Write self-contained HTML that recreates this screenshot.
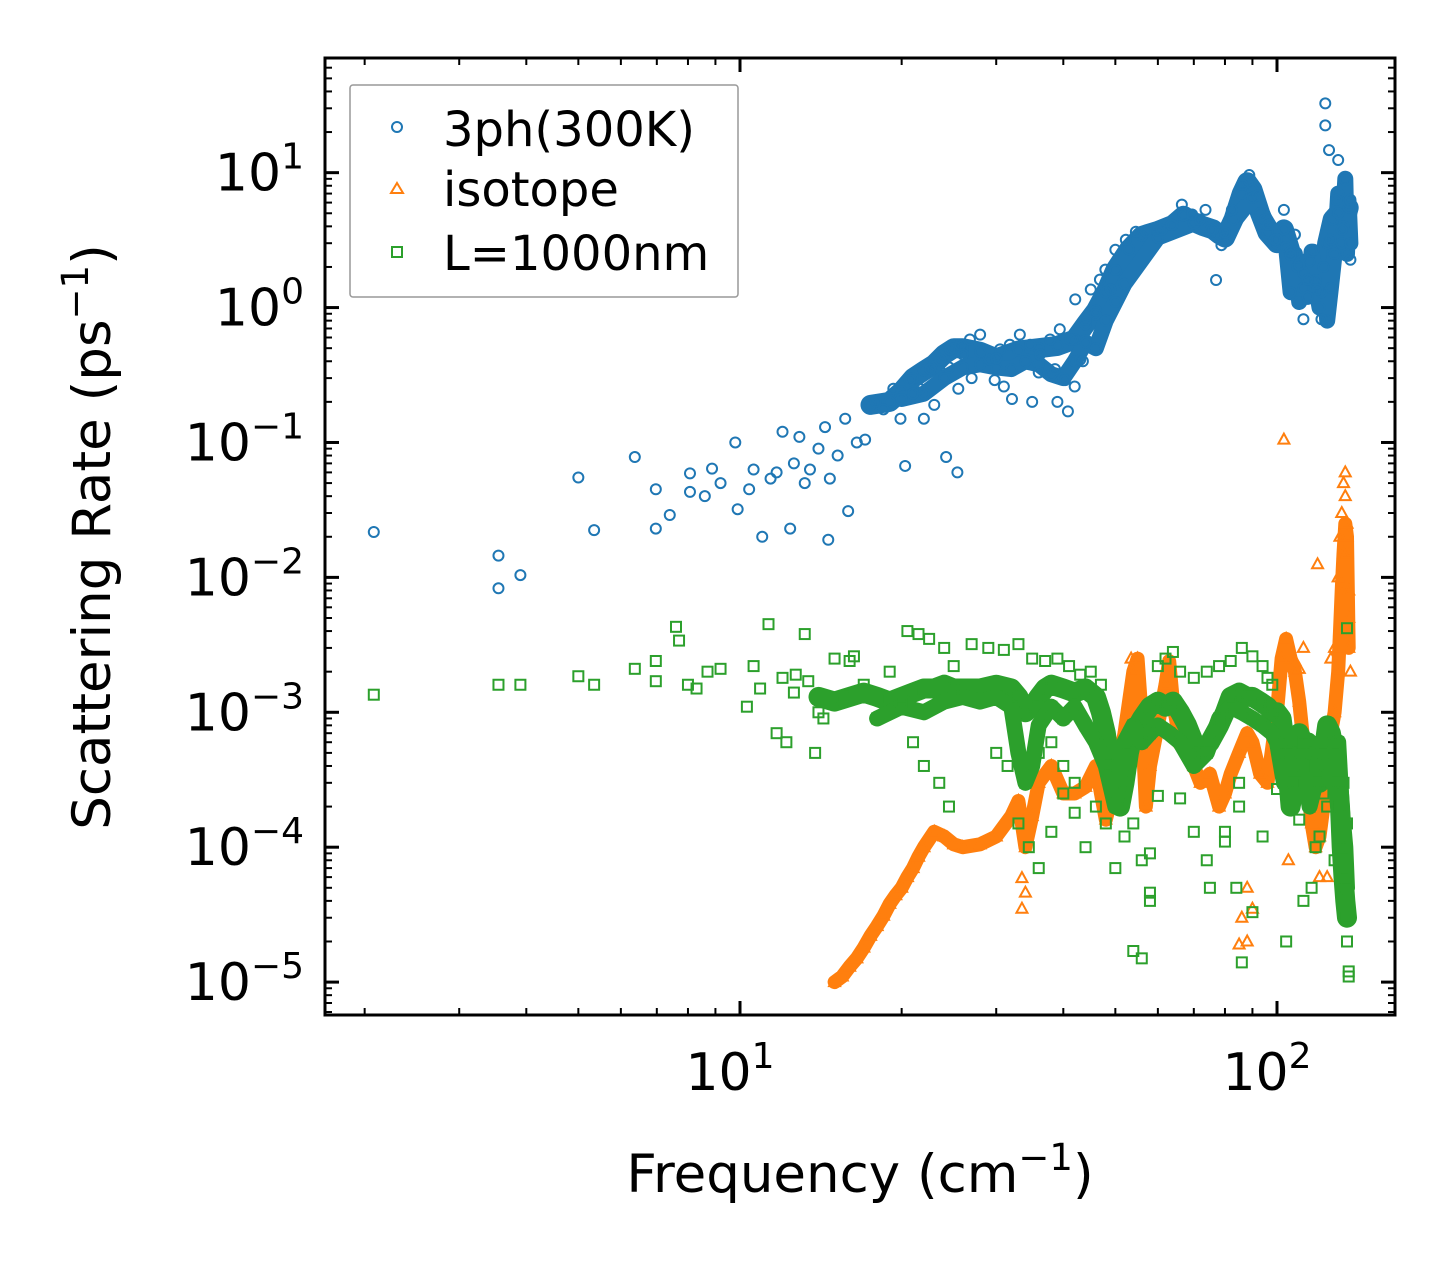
<!DOCTYPE html>
<html><head><meta charset="utf-8"><style>
html,body{margin:0;padding:0;background:#fff}
svg{display:block;font-family:"DejaVu Sans","Liberation Sans",sans-serif}
</style></head><body>
<svg id="chart" width="1455" height="1265" viewBox="0 0 1455 1265" xmlns="http://www.w3.org/2000/svg">
<rect width="1455" height="1265" fill="#fff"/>
<g id="marks"></g>
<rect x="325" y="58" width="1070" height="957" fill="none" stroke="#000" stroke-width="3"/>
<g id="ticks"></g>
<text x="860" y="1192" font-size="53" text-anchor="middle">Frequency (cm<tspan dy="-22" font-size="37">−1</tspan><tspan dy="22">)</tspan></text>
<text transform="translate(110,537) rotate(-90)" font-size="53" text-anchor="middle">Scattering Rate (ps<tspan dy="-22" font-size="37">−1</tspan><tspan dy="22">)</tspan></text>
<g>
<rect x="350" y="85" width="388" height="212" fill="#fff" stroke="#999" stroke-width="1.5" rx="3"/>
<circle cx="397" cy="127" r="5" fill="none" stroke="#1f77b4" stroke-width="2"/>
<text x="443" y="146" font-size="48">3ph(300K)</text>
<polygon points="397,183 403,193 391,193" fill="none" stroke="#ff7f0e" stroke-width="2"/>
<text x="443" y="206" font-size="48">isotope</text>
<rect x="392" y="247" width="10" height="10" fill="none" stroke="#2ca02c" stroke-width="2"/>
<text x="443" y="270" font-size="48">L=1000nm</text>
</g>
</svg>
<script>
// ---- data (frequency cm^-1, rate ps^-1) ----
const blueFreq = [2.08,3.55,3.55,3.9,5.0,5.35,6.37,6.97,6.97,7.4,8.07,8.07,8.87,8.6,9.8,9.9,10.6,11,11.4,12.0,12.4,12.9,13.5,14.4,14.7,15.7,15.9,14.6,17.1,17.9,18.5,19.3,19.9,20.3,20.7,21.6,22.6,23.6,24.6,24.2,25.4,25.7,26.8,28,29.2,29.8,30.5,31.8,32.1,33.2,34.7,36.2,37.8,38.6,39.4,40.3,41.2,42.1,43.0,44.0,45,45.9,46.8,47.9,49,50,52.3,54.6,57,61,63.6,66.5,69.5,71.9,73.6,75.3,77,78.8,82.4,86.2,88.8,92.1,96.3,99.1,103,106,108,110,112,114,117,119,121,123,123,125,126,129,130,132,134,137,137,12.6,13.2,14.0,15.2,16.5,11.7,10.4,9.2,21,22,23,27,31,35,39,40.8,42,43.5,36,30,25.5,24.5,26];
const blueRate = [0.0217,0.0145,0.0083,0.0104,0.055,0.0224,0.078,0.045,0.023,0.029,0.059,0.043,0.064,0.04,0.1,0.032,0.063,0.02,0.054,0.12,0.023,0.11,0.063,0.13,0.054,0.15,0.031,0.019,0.105,0.2,0.176,0.25,0.15,0.067,0.29,0.25,0.35,0.41,0.49,0.078,0.06,0.53,0.58,0.63,0.41,0.29,0.49,0.53,0.21,0.63,0.53,0.45,0.58,0.35,0.69,0.29,0.58,1.15,0.41,0.81,1.36,0.89,1.61,1.91,1.36,2.68,3.18,3.65,3.65,3.77,4.1,5.8,4.9,4.5,5.3,3.77,1.6,2.9,5.3,8.1,9.6,6.8,4.1,3.18,5.3,2.46,3.47,2.08,0.82,1.61,2.68,1.36,0.82,32.6,22.4,14.7,3.18,6.3,12.4,3.77,8.8,2.26,6.3,0.07,0.05,0.09,0.08,0.1,0.06,0.045,0.05,0.23,0.15,0.19,0.3,0.26,0.2,0.2,0.17,0.26,0.4,0.33,0.42,0.25,0.36,0.45];
const blueBandFreq = [17.5,19,20,21,22,23,24,25,26,28,30,33,36,39,42,44,46,48,50,53,56,60,64,67,70,73,76,78,80,83,86,88,90,93,96,100,103,106,109,112,115,118,121,124,127,130,133,136];
const blueBandRate = [0.19,0.2,0.24,0.3,0.34,0.38,0.45,0.5,0.5,0.47,0.42,0.48,0.5,0.52,0.58,0.75,0.95,1.3,1.9,2.7,3.4,3.7,4.1,4.8,4.3,4.0,3.8,3.5,3.3,4.5,7.0,8.5,7.5,5.0,3.6,3.0,3.8,2.6,2.0,1.4,2.2,1.6,1.3,3.0,4.5,5.0,4.0,5.5];
const blueBand2Freq = [20,22,24,26,28,30,32,34,36,38,40,42,44,46,48,50,52,60,70,80,90,95,100,104,106,108,110,112,114,116,118,120,122,124,126,128,130,132,134,135,136,137];
const blueBand2Rate = [0.21,0.23,0.3,0.36,0.38,0.36,0.35,0.4,0.38,0.32,0.3,0.4,0.55,0.5,0.8,1.1,1.5,3.3,4.2,3.6,6.5,4.5,3.2,2.8,1.3,2.5,1.1,1.8,1.2,2.6,1.5,1.0,2.0,0.8,1.4,2.5,7,3,9,2.5,6,3];
const orangeFreq = [33.5,33.5,34,53.5,103,110,119,126,128,130,131,132,133,134,134,135,135,136,136,137,88,88,90,105,108,112,120,124,85,86,100];
const orangeRate = [5.9e-5,3.5e-5,4.6e-5,2.5e-3,0.105,2.1e-3,0.0125,2.5e-3,3e-3,0.01,0.02,0.03,0.05,0.06,0.04,0.025,0.015,0.008,0.005,2e-3,5e-5,2e-5,3.5e-5,8e-5,2.4e-3,3e-3,6e-5,6e-5,1.9e-5,3e-5,1.3e-3];
const orangeBandFreq = [15,15.5,16,16.5,17,17.5,18,18.5,19,19.5,20,20.5,21,21.5,22,23,24,25,26,28,30,32,33,34,35,36,38,40,42,44,46,48,50,52,54,55,56,57,58,60,62,63,64,66,68,70,72,75,78,80,82,85,88,90,93,96,100,102,104,106,108,110,112,114,116,118,120,122,124,126,128,130,131,132,133,134,135,136];
const orangeBandRate = [1e-5,1.1e-5,1.3e-5,1.5e-5,1.8e-5,2.2e-5,2.6e-5,3.1e-5,3.8e-5,4.4e-5,5e-5,6e-5,7e-5,8.5e-5,1e-4,1.3e-4,1.2e-4,1.05e-4,1e-4,1.05e-4,1.2e-4,1.7e-4,2.2e-4,1e-4,1.7e-4,3e-4,4e-4,2.5e-4,2.5e-4,2.8e-4,4e-4,1.6e-4,3e-4,7e-4,2e-3,2.5e-3,9e-4,2e-4,4e-4,8e-4,1.6e-3,2.4e-3,1.2e-3,6e-4,5e-4,4e-4,3e-4,3.5e-4,2e-4,2.5e-4,3.5e-4,5e-4,7e-4,6e-4,3.5e-4,3e-4,1e-3,2.5e-3,3.5e-3,2.5e-3,2e-3,1.2e-3,6e-4,3e-4,1.5e-4,1e-4,1.2e-4,2e-4,4e-4,7e-4,1e-3,2e-3,4e-3,8e-3,0.015,0.025,0.02,0.003];
const greenFreq = [2.08,3.55,3.9,5.0,5.35,6.37,6.97,6.97,7.6,7.7,8.0,8.3,8.7,9.2,10.3,10.6,10.9,11.3,11.7,12.2,12.7,13.2,13.8,14.3,15.0,15.5,16.3,12.0,12.6,13.4,14.0,16.0,17.0,19.0,20.5,21.5,22.5,24.0,25.0,20.0,21.0,22.0,23.5,24.5,27,29,31,33,35,37,39,41,43,45,47,30,31.5,33,34.5,36,38,40,42,44,36,38,40,42,46,48,50,52,54,56,58,60,62,64,66,70,74,78,82,86,90,94,98,96,54,58,60,66,70,74,80,84,86,90,94,100,104,108,112,110,116,120,124,128,130,133,134,135,135,136,136,56,58,75,80,85,85,104,112,118,122,135,135];
const greenRate = [1.35e-3,1.6e-3,1.6e-3,1.85e-3,1.6e-3,2.1e-3,2.4e-3,1.7e-3,4.3e-3,3.4e-3,1.6e-3,1.5e-3,2e-3,2.1e-3,1.1e-3,2.2e-3,1.5e-3,4.5e-3,7e-4,6e-4,1.9e-3,3.8e-3,5e-4,9e-4,2.5e-3,1.3e-3,2.6e-3,1.8e-3,1.4e-3,1.7e-3,1e-3,2.4e-3,1.6e-3,2e-3,4e-3,3.8e-3,3.5e-3,3e-3,2.2e-3,1.2e-3,6e-4,4e-4,3e-4,2e-4,3.2e-3,3e-3,2.9e-3,3.2e-3,2.5e-3,2.4e-3,2.5e-3,2.2e-3,1.9e-3,2e-3,1.6e-3,5e-4,4e-4,1.5e-4,1e-4,7e-5,1.3e-4,2.5e-4,1.8e-4,1e-4,5e-4,6e-4,4e-4,3e-4,2e-4,1.5e-4,7e-5,1.2e-4,1.5e-4,8e-5,4e-5,2.2e-3,2.5e-3,2.8e-3,2e-3,1.8e-3,2e-3,2.2e-3,2.4e-3,3e-3,2.6e-3,2.2e-3,1.6e-3,1.8e-3,1.7e-5,4.6e-5,2.4e-4,2.3e-4,1.3e-4,8e-5,1.1e-4,5e-5,1.4e-5,3.3e-5,1.2e-4,2.7e-4,2e-5,3e-4,4e-5,1.6e-4,5e-5,1.2e-4,2e-4,8e-5,1e-4,3e-4,6e-5,3e-5,2e-5,1.2e-5,1.1e-5,1.5e-5,9e-5,5e-5,1.3e-4,2e-4,3e-4,6e-4,6e-4,1e-4,2.5e-4,1.5e-4,4.2e-3,3.2e-3];
const greenBandFreq = [14,15,16,17,18,19,20,21,22,23,24,25,26,28,30,32,33,34,35,36,37,38,40,42,44,46,47,48,49,50,51,52,53,54,56,58,60,62,64,66,68,70,72,75,78,80,82,85,88,90,93,96,98,100,102,104,106,108,110,112,114,116,118,120,122,124,126,128,130,131,132,133,134,135];
const greenBandRate = [1.3e-3,1.2e-3,1.3e-3,1.4e-3,1.3e-3,1.2e-3,1.3e-3,1.4e-3,1.5e-3,1.5e-3,1.6e-3,1.5e-3,1.5e-3,1.5e-3,1.6e-3,1.5e-3,1.3e-3,1e-3,1.1e-3,1.3e-3,1.5e-3,1.6e-3,1.5e-3,1.4e-3,1.5e-3,1.3e-3,1e-3,7e-4,4e-4,2.5e-4,2e-4,3e-4,5e-4,7e-4,9e-4,1.1e-3,1.2e-3,1.1e-3,1.2e-3,1e-3,8e-4,6e-4,5e-4,6e-4,8e-4,1e-3,1.3e-3,1.4e-3,1.3e-3,1.3e-3,1.2e-3,1.1e-3,1e-3,1e-3,9e-4,5e-4,2e-4,3e-4,7e-4,6e-4,6e-4,5e-4,4e-4,3e-4,5e-4,8e-4,7e-4,5e-4,3e-4,2e-4,1e-4,6e-5,4e-5,3e-5];
const greenBand2Freq = [18,20,22,24,26,28,30,32,33,34,35,36,38,40,42,44,46,48,50,52,54,56,58,60,63,66,70,74,78,82,86,90,94,98,100,103,106,109,112,115,118,121,124,127,130,132,134,135];
const greenBand2Rate = [9e-4,1.1e-3,1e-3,1.2e-3,1.3e-3,1.2e-3,1.3e-3,1.1e-3,5e-4,3e-4,4e-4,8e-4,1.1e-3,9e-4,1.1e-3,8e-4,6e-4,4e-4,2e-4,6e-4,8e-4,6e-4,7e-4,8e-4,7e-4,6e-4,4e-4,5e-4,9e-4,1.1e-3,1e-3,9e-4,8e-4,7e-4,6e-4,3e-4,5e-4,3e-4,4e-4,2e-4,3e-4,6e-4,4e-4,3e-4,6e-4,2e-4,1e-4,5e-5];
const xTickVals = [10,100];
const xTickLabels = ["1","2"];
const yTickVals = [1e1,1e0,1e-1,1e-2,1e-3,1e-4,1e-5];
const yTickLabels = ["1","0","−1","−2","−3","−4","−5"];

// ---- axes ----
const NS="http://www.w3.org/2000/svg";
const X0=325,X1=1395,Y0=58,Y1=1015;
const xLogMin=1+(X0-740)/537, xLogMax=1+(X1-740)/537;
const yLogTop=1+(173-Y0)/135.3, yLogBot=-5-(Y1-982)/135.3;
function xs(v){return X0+(Math.log10(v)-xLogMin)/(xLogMax-xLogMin)*(X1-X0);}
function ys(v){return Y0+(yLogTop-Math.log10(v))/(yLogTop-yLogBot)*(Y1-Y0);}
function mk(tag,attrs){const e=document.createElementNS(NS,tag);for(const k in attrs)e.setAttribute(k,attrs[k]);return e;}
const marks=document.getElementById('marks');
const ticks=document.getElementById('ticks');
const C={b:"#1f77b4",o:"#ff7f0e",g:"#2ca02c"};

function band(fr,rt,color,w,name){
  const p=mk('polyline',{points:fr.map((f,i)=>xs(f).toFixed(1)+','+ys(rt[i]).toFixed(1)).join(' '),fill:'none',stroke:color,'stroke-width':w,'stroke-linejoin':'round','stroke-linecap':'round'});
  
  
  marks.appendChild(p);
}
function circles(fr,rt,name){
  fr.forEach((f,i)=>{const e=mk('circle',{cx:xs(f),cy:ys(rt[i]),r:5,fill:'none',stroke:C.b,'stroke-width':2});
  
  
  marks.appendChild(e);});
}
function tris(fr,rt,name){
  fr.forEach((f,i)=>{const x=xs(f),y=ys(rt[i]);const e=mk('polygon',{points:`${x},${y-6} ${x+5.5},${y+4} ${x-5.5},${y+4}`,fill:'none',stroke:C.o,'stroke-width':2});
  
  
  marks.appendChild(e);});
}
function squares(fr,rt,name){
  fr.forEach((f,i)=>{const x=xs(f),y=ys(rt[i]);const e=mk('rect',{x:x-5,y:y-5,width:10,height:10,fill:'none',stroke:C.g,'stroke-width':2});
  
  
  marks.appendChild(e);});
}
band(blueBandFreq,blueBandRate,C.b,20,'3ph-dense-band');
band(blueBand2Freq,blueBand2Rate,C.b,16,'3ph-dense-band-lower');
circles(blueBandFreq,blueBandRate,'3ph-point');
circles(blueBand2Freq,blueBand2Rate,'3ph-point');
circles(blueFreq,blueRate,'3ph-point');
band(orangeBandFreq,orangeBandRate,C.o,14,'isotope-dense-band');
tris(orangeBandFreq,orangeBandRate,'isotope-point');
tris(orangeFreq,orangeRate,'isotope-point');
band(greenBandFreq,greenBandRate,C.g,20,'boundary-dense-band');
band(greenBand2Freq,greenBand2Rate,C.g,16,'boundary-dense-band-lower');
squares(greenBandFreq,greenBandRate,'boundary-point');
squares(greenBand2Freq,greenBand2Rate,'boundary-point');
squares(greenFreq,greenRate,'boundary-point');

// ---- ticks ----
function line(x1,y1,x2,y2,w,name){const e=mk('line',{x1,y1,x2,y2,stroke:'#000','stroke-width':w});
  
  
  ticks.appendChild(e);}
for(let d=0;d<=3;d++){for(let m=1;m<=9;m++){const v=m*Math.pow(10,d);const x=xs(v);if(x<X0+1||x>X1-1)continue;
  const L=m===1?14:7,w=m===1?3:2;line(x,Y1,x,Y1-L,w,'x-tick');line(x,Y0,x,Y0+L,w,'x-tick');}}
for(let d=-6;d<=2;d++){for(let m=1;m<=9;m++){const v=m*Math.pow(10,d);const y=ys(v);if(y<Y0+1||y>Y1-1)continue;
  const L=m===1?14:7,w=m===1?3:2;line(X0,y,X0+L,y,w,'y-tick');line(X1,y,X1-L,y,w,'y-tick');}}
xTickVals.forEach((v,i)=>{const t=mk('text',{x:xs(v)-10,y:1090,'font-size':52,'text-anchor':'middle'});
  t.innerHTML=`10<tspan dy="-22" font-size="36">${xTickLabels[i]}</tspan>`;
  
  
  ticks.appendChild(t);});
yTickVals.forEach((v,i)=>{const t=mk('text',{x:304,y:ys(v)+18,'font-size':52,'text-anchor':'end'});
  t.innerHTML=`10<tspan dy="-22" font-size="36">${yTickLabels[i]}</tspan>`;
  
  
  ticks.appendChild(t);});
</script>
</body></html>
